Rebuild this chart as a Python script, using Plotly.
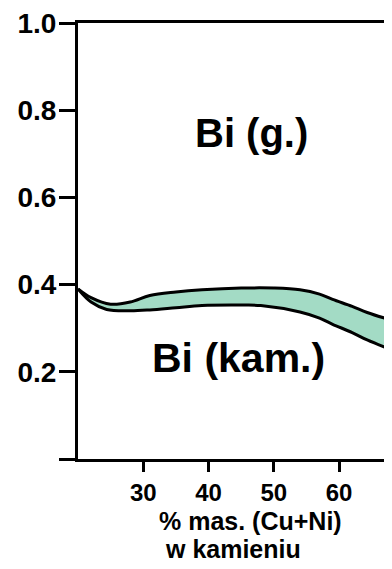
import plotly.graph_objects as go

# Data
upper_x = [20, 22, 25, 28, 31, 35, 39, 45, 50, 54, 57, 59, 62, 64.3, 68.1]
upper_y = [0.39, 0.37, 0.355, 0.36, 0.375, 0.383, 0.388, 0.392, 0.392, 0.388, 0.378, 0.366, 0.35, 0.336, 0.318]
lower_x = [20, 22, 24.4, 28, 31, 35, 39, 45, 48, 54, 57, 59, 62, 64.3, 68.1]
lower_y = [0.39, 0.36, 0.343, 0.34, 0.342, 0.347, 0.352, 0.353, 0.352, 0.337, 0.323, 0.309, 0.29, 0.273, 0.25]

x_ticks = [30, 40, 50, 60]
y_ticks = [0, 0.2, 0.4, 0.6, 0.8, 1.0]
y_tick_labels = ["", "0.2", "0.4", "0.6", "0.8", "1.0"]

FONT = "Liberation Sans, Arial, sans-serif"
FILL = "#a3dbc5"

fig = go.Figure()
fig.add_trace(go.Scatter(x=lower_x, y=lower_y, mode="lines",
                         line=dict(color="black", width=3, shape="spline"),
                         hoverinfo="skip", showlegend=False))
fig.add_trace(go.Scatter(x=upper_x, y=upper_y, mode="lines", fill="tonexty",
                         fillcolor=FILL,
                         line=dict(color="black", width=3, shape="spline"),
                         hoverinfo="skip", showlegend=False))

fig.update_layout(
    width=384, height=561,
    margin=dict(l=70, r=0, t=8, b=110),
    paper_bgcolor="white", plot_bgcolor="white",
    font=dict(family=FONT, color="black"),
    xaxis=dict(range=[20, 68.1], tickvals=x_ticks, ticks="outside", ticklen=10,
               tickwidth=3, tickcolor="black", showline=True, linewidth=3,
               linecolor="black", mirror=True, showgrid=False, zeroline=False,
               tickfont=dict(size=24, family=FONT, weight="bold"),
               ticklabelstandoff=0),
    yaxis=dict(range=[0, 1.0], tickvals=y_ticks, ticktext=y_tick_labels,
               ticks="outside", ticklen=16, tickwidth=3, tickcolor="black",
               showline=True, linewidth=3, linecolor="black", mirror=False,
               showgrid=False, zeroline=False,
               tickfont=dict(size=28, family=FONT, weight="bold"),
               ticklabelstandoff=-3, ticklabeloverflow="allow"),
)

# positions in page pixels of the reference, mapped onto the plot area (paper coords)
def paper_y(py):
    return (459 - py) / 443.0

def paper_x(px):
    return (px - 78) / 314.0

annots = [
    ("Bi (g.)", 251, 128, 40),
    ("Bi (kam.)", 238, 356, 41),
    ("% mas. (Cu+Ni)", 250, 522, 25),
    ("w kamieniu", 233, 550, 25),
]
for text, px, py, size in annots:
    fig.add_annotation(text=text, x=paper_x(px), y=paper_y(py), xref="paper",
                       yref="paper", xanchor="center", yanchor="middle",
                       showarrow=False,
                       font=dict(size=size, family=FONT, color="black", weight="bold"))

fig.write_html("out.html")
